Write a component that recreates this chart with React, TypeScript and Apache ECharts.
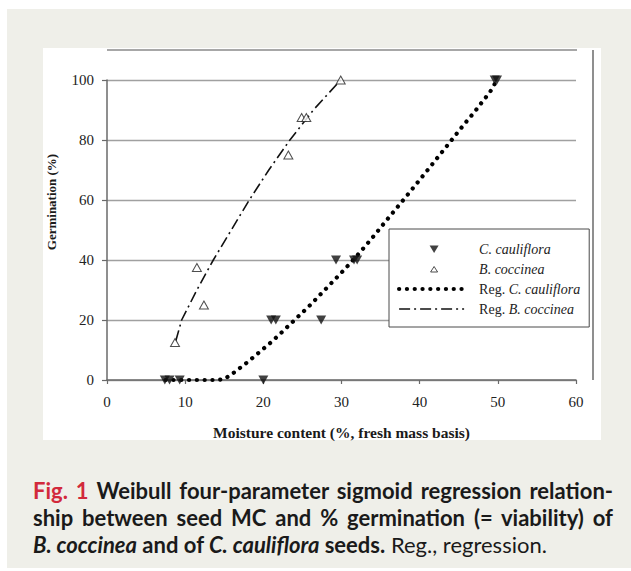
import React, { useEffect, useRef } from "react";
import * as echarts from "echarts";

// ---- data ----
const caulifloraObs: [number, number][] = [
  [7.4, 0], [8.0, 0], [9.3, 0], [20.0, 0],
  [21.0, 20], [21.6, 20], [27.4, 20],
  [29.3, 40], [31.6, 40], [32.0, 40],
  [49.6, 100], [49.9, 100],
];
const coccineaObs: [number, number][] = [
  [8.7, 12.5], [11.5, 37.5], [12.4, 25], [23.2, 75], [24.9, 87.5], [25.5, 87.5], [29.9, 100],
];
const regCauliflora: [number, number][] = [
  [7.5, 0], [10, 0], [12, 0], [14, 0], [15, 0.3], [16, 2], [17, 4], [18, 6], [19, 8.2],
  [20, 10.4], [21, 12.6], [22, 15], [23, 17.5], [24, 20], [25, 22.5], [26, 25], [27, 27.7],
  [28, 30.4], [29, 33.1], [30, 35.8], [31, 38.6], [32, 41.5], [33, 44.5], [34, 47.6],
  [35, 50.8], [36, 54], [38, 60.3], [40, 66.7], [42, 73.2], [44, 79.7], [45, 83],
  [46, 86.2], [47, 89.3], [48, 92.7], [49, 96], [49.9, 100],
];
const regCoccinea: [number, number][] = [
  [8.8, 13], [9.55, 20], [11.5, 30], [13.6, 40], [15.9, 50], [18.2, 60], [20.7, 70],
  [23.4, 80], [26.4, 90], [29.9, 100],
];
const seriesNames = ["C. cauliflora", "B. coccinea", "Reg. C. cauliflora", "Reg. B. coccinea"];
const xName = "Moisture content (%, fresh mass basis)";
const yName = "Germination (%)";

const SERIF = "'Liberation Serif', 'Times New Roman', serif";

export default function App() {
  const ref = useRef<HTMLDivElement>(null);
  useEffect(() => {
    if (!ref.current) return;
    const chart = echarts.init(ref.current, undefined, { renderer: "svg" });
    chart.setOption({
      animation: false,
      backgroundColor: "transparent",
      grid: { left: 107, right: 55, top: 80, bottom: 191 },
      xAxis: {
        type: "value",
        min: 0,
        max: 60,
        interval: 10,
        name: xName,
        nameLocation: "middle",
        nameGap: 44,
        nameTextStyle: { fontFamily: SERIF, fontWeight: "bold", fontSize: 15.5, color: "#1a1a1a" },
        axisLine: { show: true, lineStyle: { color: "#6a6a6a", width: 1.5 } },
        axisTick: { show: true, length: 4, lineStyle: { color: "#6a6a6a", width: 1.2 } },
        axisLabel: { fontFamily: SERIF, fontSize: 15, color: "#222", margin: 14 },
        splitLine: { show: false },
      },
      yAxis: {
        type: "value",
        min: 0,
        max: 100,
        interval: 20,
        axisLine: { show: true, lineStyle: { color: "#6a6a6a", width: 1.5 } },
        axisTick: { show: true, length: 5, lineStyle: { color: "#6a6a6a", width: 1.2 } },
        axisLabel: { fontFamily: SERIF, fontSize: 15, color: "#222", margin: 13 },
        splitLine: { show: true, lineStyle: { color: "#a0a0a0", width: 1.4 } },
      },
      legend: {
        orient: "vertical",
        left: 389,
        top: 229,
        z: 10,
        padding: [13, 9, 11, 8],
        itemWidth: 65,
        itemHeight: 10,
        itemGap: 6,
        symbolRotate: 0,
        selectedMode: false,
        backgroundColor: "#ffffff",
        borderColor: "#4a4a4a",
        borderWidth: 1,
        data: [
          {
            name: seriesNames[0],
            icon: "path://M0,0M65,10M30.5,1.5L39.5,1.5L35,9Z",
            itemStyle: { color: "#111", borderWidth: 0 },
          },
          {
            name: seriesNames[1],
            icon: "path://M0,0M65,10M31.5,8L38.5,8L35,2.5Z",
            itemStyle: { color: "#fff", borderColor: "#222", borderWidth: 1 },
          },
          {
            name: seriesNames[2],
            itemStyle: { color: "rgba(0,0,0,0)", opacity: 0, borderWidth: 0 },
            lineStyle: { width: 4.2, color: "#000" },
          },
          {
            name: seriesNames[3],
            itemStyle: { color: "rgba(0,0,0,0)", opacity: 0, borderWidth: 0 },
            lineStyle: { width: 1.6, color: "#111" },
          },
        ],
        formatter: (name: string) =>
          name.startsWith("Reg. ") ? `{n|Reg. }{i|${name.slice(5)}}` : `{i|${name}}`,
        textStyle: {
          fontFamily: SERIF,
          fontSize: 14,
          color: "#222",
          lineHeight: 14,
          padding: [0, 0, 0, 10],
          rich: {
            i: { fontFamily: SERIF, fontStyle: "italic", fontSize: 14, color: "#222", lineHeight: 14 },
            n: { fontFamily: SERIF, fontSize: 14, color: "#222", lineHeight: 14 },
          },
        },
      },
      graphic: [
        { type: "line", z: 1, shape: { x1: 107, y1: 50, x2: 577, y2: 50 }, style: { stroke: "#8a8a8a", lineWidth: 1.5 } },
        { type: "line", z: 1, shape: { x1: 593, y1: 50, x2: 593, y2: 380 }, style: { stroke: "#6a6a6a", lineWidth: 1.5 } },
        {
          type: "text",
          z: 5,
          x: 51,
          y: 202,
          rotation: Math.PI / 2,
          style: {
            text: yName,
            fontFamily: SERIF,
            fontWeight: "bold",
            fontSize: 13,
            fill: "#1a1a1a",
            align: "center",
            verticalAlign: "middle",
          },
        },
      ],
      series: [
        {
          name: seriesNames[0],
          type: "scatter",
          data: caulifloraObs,
          symbol: "triangle",
          symbolRotate: 180,
          symbolSize: [10, 9],
          itemStyle: { color: "#111" },
          z: 5,
        },
        {
          name: seriesNames[1],
          type: "scatter",
          data: coccineaObs,
          symbol: "triangle",
          symbolSize: [9, 8],
          itemStyle: { color: "#ffffff", borderColor: "#222", borderWidth: 1 },
          z: 5,
        },
        {
          name: seriesNames[2],
          type: "line",
          data: regCauliflora,
          showSymbol: false,
          symbol: "none",
          clip: false,
          lineStyle: { color: "#000", width: 4.2, type: [0.1, 7.7], cap: "round" },
          itemStyle: { color: "#000" },
          z: 3,
        },
        {
          name: seriesNames[3],
          type: "line",
          data: regCoccinea,
          showSymbol: false,
          symbol: "none",
          clip: false,
          lineStyle: { color: "#111", width: 1.6, type: [11, 4, 2, 4] },
          itemStyle: { color: "#111" },
          z: 3,
        },
      ],
    });
    return () => chart.dispose();
  }, []);

  const capFont = "Lato, 'Noto Sans', sans-serif";
  const lineStyle: React.CSSProperties = {
    whiteSpace: "nowrap",
    textAlign: "justify",
    textAlignLast: "justify" as any,
    height: 27,
  };
  return (
    <div style={{ position: "fixed", left: 0, top: 0, width: 631, height: 571, background: "#ffffff", overflow: "hidden" }}>
      <div style={{ position: "absolute", left: 7, top: 9, width: 624, height: 559, background: "#efefe9" }} />
      <div style={{ position: "absolute", left: 43, top: 48, width: 558, height: 392, background: "#ffffff" }} />
      <div ref={ref} style={{ position: "absolute", left: 0, top: 0, width: 631, height: 571 }} />
      <div
        style={{
          position: "absolute",
          left: 33,
          top: 477,
          width: 580,
          fontFamily: capFont,
          fontWeight: 700,
          fontSize: 22,
          lineHeight: "27px",
          color: "#1a1a1a",
        }}
      >
        <div style={lineStyle}>
          <span style={{ color: "#d2293b" }}>Fig. 1</span> Weibull four-parameter sigmoid regression relation-
        </div>
        <div style={lineStyle}>ship between seed MC and % germination (= viability) of</div>
        <div style={{ whiteSpace: "nowrap", height: 27 }}>
          <i>B. coccinea</i> and of <i>C. cauliflora</i> seeds.<span style={{ fontWeight: 400 }}> Reg., regression.</span>
        </div>
      </div>
    </div>
  );
}
